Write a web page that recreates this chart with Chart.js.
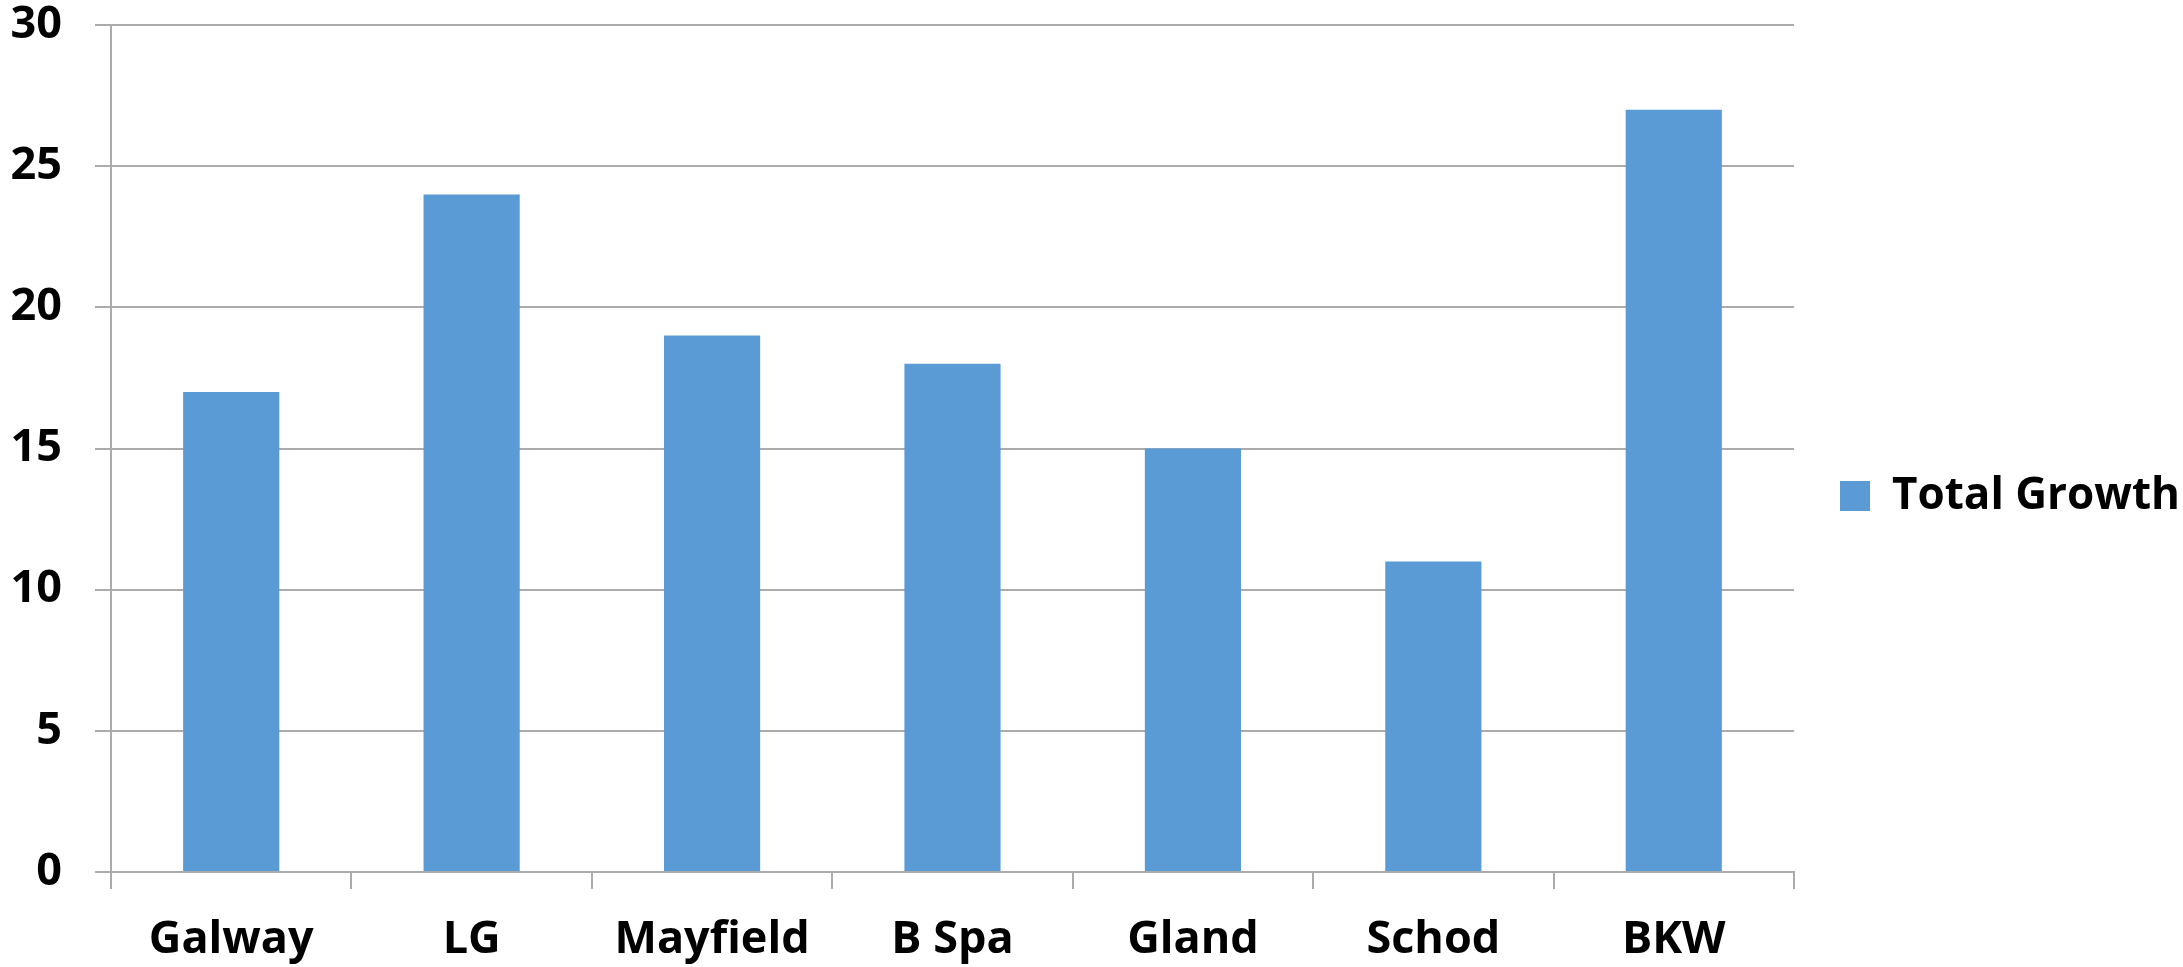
<!DOCTYPE html>
<html>
<head>
<meta charset="utf-8">
<script src="https://cdn.jsdelivr.net/npm/chart.js@4.4.1/dist/chart.umd.min.js"></script>
<style>
  html, body { margin: 0; padding: 0; background: #ffffff; }
  #wrap { width: 2183px; height: 967px; position: relative; }
</style>
</head>
<body>
<div id="wrap"><canvas id="c" width="2183" height="967"></canvas></div>
<script>
const categories = ["Galway", "LG", "Mayfield", "B Spa", "Gland", "Schod", "BKW"];
const seriesName = "Total Growth";
const totalGrowth = [17, 24, 19, 18, 15, 11, 27];
const yTicks = [0, 5, 10, 15, 20, 25, 30];

const gridColor = "#ababab";
const barColor = "#5b9bd5";
const fontFamily = "'Open Sans', Lato, sans-serif";
const labelFont = { family: fontFamily, size: 45, weight: "bold", lineHeight: 1.2 };
const legendFont = { family: fontFamily, size: 44, weight: "bold", lineHeight: 1.2 };

new Chart(document.getElementById("c"), {
  type: "bar",
  data: {
    labels: categories,
    datasets: [{
      label: seriesName,
      data: totalGrowth,
      backgroundColor: barColor,
      borderWidth: 0,
      categoryPercentage: 1.0,
      barPercentage: 0.4
    }]
  },
  options: {
    responsive: false,
    animation: false,
    devicePixelRatio: 1,
    layout: { padding: { top: 25, left: 0, right: -7, bottom: 0 } },
    plugins: {
      tooltip: { enabled: false },
      legend: {
        position: "right",
        labels: {
          boxWidth: 30,
          boxHeight: 30,
          padding: 46,
          color: "#000000",
          font: legendFont
        }
      }
    },
    scales: {
      x: {
        offset: true,
        grid: {
          offset: true,
          drawOnChartArea: false,
          drawTicks: true,
          tickLength: 17,
          color: gridColor,
          lineWidth: 2
        },
        border: { display: true, color: gridColor, width: 2 },
        ticks: {
          color: "#000000",
          padding: 24,
          font: labelFont,
          maxRotation: 0,
          autoSkip: false
        },
        afterFit: (axis) => { axis.height = 95; axis.paddingLeft = 0; axis.paddingRight = 0; }
      },
      y: {
        min: 0,
        max: 30,
        afterBuildTicks: (axis) => { axis.ticks = yTicks.map(v => ({ value: v })); },
        grid: {
          color: gridColor,
          lineWidth: 2,
          tickLength: 16,
          drawTicks: true
        },
        border: { display: true, color: gridColor, width: 2 },
        ticks: {
          color: "#000000",
          padding: 33,
          font: labelFont
        },
        afterFit: (axis) => { axis.width = 111; axis.paddingTop = 0; axis.paddingBottom = 0; }
      }
    }
  }
});
</script>
</body>
</html>
